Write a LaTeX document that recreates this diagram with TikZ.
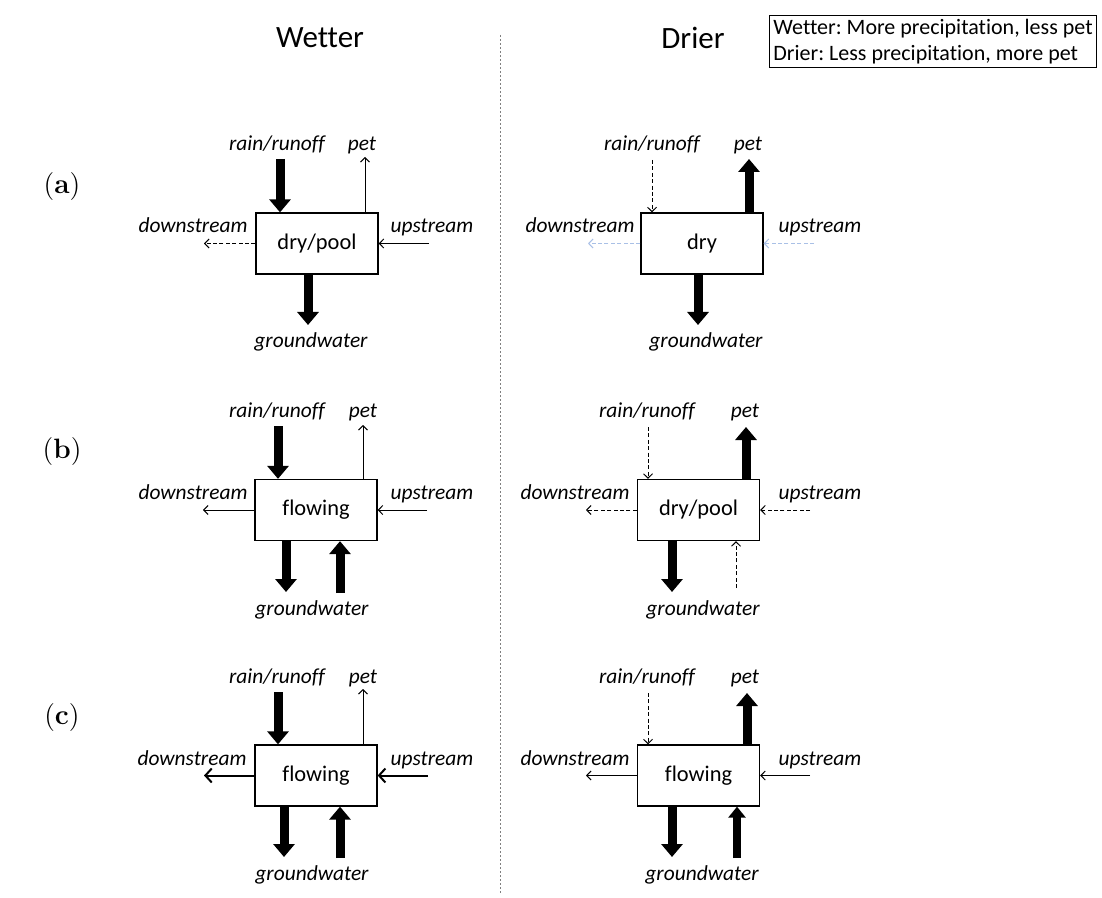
\documentclass[tikz,border=0pt]{standalone}
\usepackage{fontspec}
\setsansfont{Carlito}[Ligatures=NoCommon]
\usepackage{xcolor}
\usetikzlibrary{arrows.meta}
\definecolor{faintblue}{HTML}{A9C0E6}
\frenchspacing

\begin{document}
\begin{tikzpicture}[x=0.5pt,y=-0.5pt,
    flowbox/.style={draw,line width=0.65pt,minimum width=61pt,minimum height=30.5pt,
      inner sep=0pt,font=\sffamily\fontsize{11.2}{13}\selectfont},
    flux/.style={anchor=base,inner sep=0pt,font=\sffamily\itshape\fontsize{10.7}{13}\selectfont},
    big/.style={line width=4.5pt,-{Triangle[width=10.5pt,length=6.5pt]}},
    bigish/.style={line width=3.6pt,-{Triangle[width=8.5pt,length=5.5pt]}},
    mid/.style={line width=1pt,-{Straight Barb[width=7pt,length=3.2pt]}},
    small/.style={line width=0.5pt,-{Straight Barb[width=4.5pt,length=2.2pt]}},
    weak/.style={small,dash pattern=on 2pt off 1.2pt},
    faint/.style={weak,faintblue},
    rowlabel/.style={font=\fontsize{14}{16}\selectfont}]
  \useasboundingbox (0,0) rectangle (1102,898);
  %
  \node[font=\sffamily\fontsize{15.5}{18}\selectfont] (wetter) at (320,38) {Wetter};
  \node[font=\sffamily\fontsize{15.5}{18}\selectfont] (drier) at (693,38) {Drier};
  \node[draw,line width=0.5pt,align=left,inner sep=2pt,
    font=\sffamily\fontsize{11}{13}\selectfont] (legend) at (933,41.5)
    {Wetter: More precipitation, less pet\\Drier: Less precipitation, more pet};
  \draw[gray,line width=0.4pt,dash pattern=on 1pt off 1pt] (500,35) -- (500,893);
  %
  \node[rowlabel] (rowA) at (62,187) {(\textbf{a})};
  \node[rowlabel] (rowB) at (62,452) {(\textbf{b})};
  \node[rowlabel] (rowC) at (62,718) {(\textbf{c})};
  %
  % (a) wetter
  \node[flowbox] (wetA) at (317,243.5) {dry/pool};
  \node[flux] at (277,151) {rain/runoff};
  \node[flux] at (362,151) {pet};
  \node[flux] at (193,233) {downstream};
  \node[flux] at (432,233) {upstream};
  \node[flux] at (311,348) {groundwater};
  \coordinate (wetArain) at (280,159);
  \coordinate (wetApet) at (365,157);
  \coordinate (wetAdown) at (204,243.5);
  \coordinate (wetAup) at (429,243.5);
  \coordinate (wetAgw) at (308,325);
  \draw[big] (wetArain) -- (wetArain |- wetA.north);
  \draw[small] (wetApet |- wetA.north) -- (wetApet);
  \draw[weak] (wetA.west) -- (wetAdown);
  \draw[small] (wetAup) -- (wetA.east);
  \draw[big] (wetAgw |- wetA.south) -- (wetAgw);
  %
  % (a) drier
  \node[flowbox] (dryA) at (702,243.5) {dry};
  \node[flux] at (652,151) {rain/runoff};
  \node[flux] at (748,151) {pet};
  \node[flux] at (580,233) {downstream};
  \node[flux] at (820,233) {upstream};
  \node[flux] at (706,348) {groundwater};
  \coordinate (dryArain) at (652,160);
  \coordinate (dryApet) at (749,159);
  \coordinate (dryAdown) at (588,243.5);
  \coordinate (dryAup) at (814,243.5);
  \coordinate (dryAgw) at (698,325);
  \draw[weak] (dryArain) -- (dryArain |- dryA.north);
  \draw[big] (dryApet |- dryA.north) -- (dryApet);
  \draw[faint] (dryA.west) -- (dryAdown);
  \draw[faint] (dryAup) -- (dryA.east);
  \draw[big] (dryAgw |- dryA.south) -- (dryAgw);
  %
  % (b) wetter
  \node[flowbox] (wetB) at (316,510) {flowing};
  \node[flux] at (277,417) {rain/runoff};
  \node[flux] at (363,417) {pet};
  \node[flux] at (193,499) {downstream};
  \node[flux] at (432,499) {upstream};
  \node[flux] at (312,615) {groundwater};
  \coordinate (wetBrain) at (278,426);
  \coordinate (wetBpet) at (363,425);
  \coordinate (wetBdown) at (203,510);
  \coordinate (wetBup) at (427,510);
  \coordinate (wetBgwout) at (286,592);
  \coordinate (wetBgwin) at (340,593);
  \draw[big] (wetBrain) -- (wetBrain |- wetB.north);
  \draw[small] (wetBpet |- wetB.north) -- (wetBpet);
  \draw[small] (wetB.west) -- (wetBdown);
  \draw[small] (wetBup) -- (wetB.east);
  \draw[big] (wetBgwout |- wetB.south) -- (wetBgwout);
  \draw[big] (wetBgwin) -- (wetBgwin |- wetB.south);
  %
  % (b) drier
  \node[flowbox] (dryB) at (698.5,510) {dry/pool};
  \node[flux] at (647,417) {rain/runoff};
  \node[flux] at (745,417) {pet};
  \node[flux] at (575,499) {downstream};
  \node[flux] at (820,499) {upstream};
  \node[flux] at (703,615) {groundwater};
  \coordinate (dryBrain) at (648,427);
  \coordinate (dryBpet) at (746,427);
  \coordinate (dryBdown) at (586,510);
  \coordinate (dryBup) at (810,510);
  \coordinate (dryBgwout) at (672,592);
  \coordinate (dryBgwin) at (736,588);
  \draw[weak] (dryBrain) -- (dryBrain |- dryB.north);
  \draw[big] (dryBpet |- dryB.north) -- (dryBpet);
  \draw[weak] (dryB.west) -- (dryBdown);
  \draw[weak] (dryBup) -- (dryB.east);
  \draw[big] (dryBgwout |- dryB.south) -- (dryBgwout);
  \draw[weak] (dryBgwin) -- (dryBgwin |- dryB.south);
  %
  % (c) wetter
  \node[flowbox] (wetC) at (316,775.5) {flowing};
  \node[flux] at (277,683) {rain/runoff};
  \node[flux] at (363,683) {pet};
  \node[flux] at (192,765) {downstream};
  \node[flux] at (432,765) {upstream};
  \node[flux] at (312,880) {groundwater};
  \coordinate (wetCrain) at (278,692);
  \coordinate (wetCpet) at (363,689);
  \coordinate (wetCdown) at (204,775.5);
  \coordinate (wetCup) at (428,775.5);
  \coordinate (wetCgwout) at (284,857);
  \coordinate (wetCgwin) at (340,858);
  \draw[big] (wetCrain) -- (wetCrain |- wetC.north);
  \draw[small] (wetCpet |- wetC.north) -- (wetCpet);
  \draw[mid] (wetC.west) -- (wetCdown);
  \draw[mid] (wetCup) -- (wetC.east);
  \draw[big] (wetCgwout |- wetC.south) -- (wetCgwout);
  \draw[big] (wetCgwin) -- (wetCgwin |- wetC.south);
  %
  % (c) drier
  \node[flowbox] (dryC) at (698.5,775.5) {flowing};
  \node[flux] at (647,683) {rain/runoff};
  \node[flux] at (745,683) {pet};
  \node[flux] at (575,765) {downstream};
  \node[flux] at (820,765) {upstream};
  \node[flux] at (702,880) {groundwater};
  \coordinate (dryCrain) at (648,693);
  \coordinate (dryCpet) at (747,693);
  \coordinate (dryCdown) at (586,775.5);
  \coordinate (dryCup) at (810,775.5);
  \coordinate (dryCgwout) at (672,857);
  \coordinate (dryCgwin) at (737,858);
  \draw[weak] (dryCrain) -- (dryCrain |- dryC.north);
  \draw[big] (dryCpet |- dryC.north) -- (dryCpet);
  \draw[small] (dryC.west) -- (dryCdown);
  \draw[small] (dryCup) -- (dryC.east);
  \draw[big] (dryCgwout |- dryC.south) -- (dryCgwout);
  \draw[bigish] (dryCgwin) -- (dryCgwin |- dryC.south);
\end{tikzpicture}
\end{document}
